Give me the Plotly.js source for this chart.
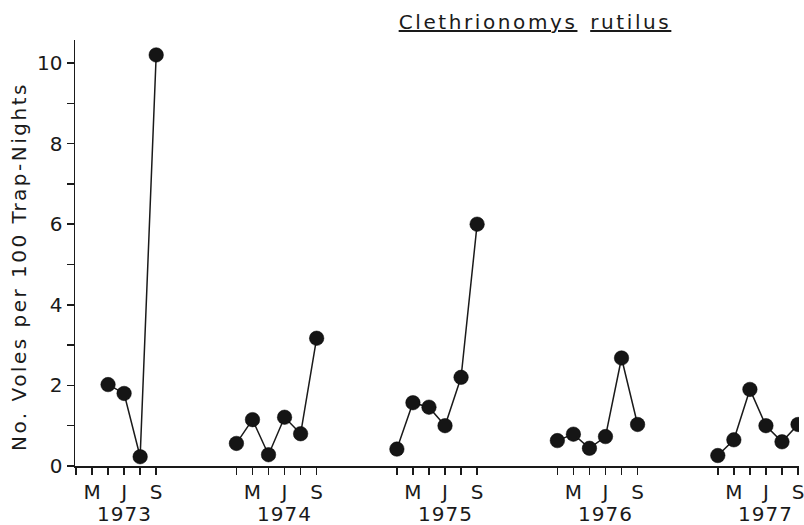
<!DOCTYPE html>
<html>
<head>
<meta charset="utf-8">
<script src="https://cdn.plot.ly/plotly-3.0.1.min.js"></script>
<style>html,body{margin:0;padding:0;background:#fff;}#chart{width:804px;height:525px;}</style>
</head>
<body>
<div id="chart"></div>
<script>
// Data
const years = ['1973', '1974', '1975', '1976', '1977'];
const monthLabels = ['', 'M', '', 'J', '', 'S']; // six sampled months per season
const v1973 = [null, null, 2.02, 1.8, 0.23, 10.2];
const v1974 = [0.56, 1.15, 0.28, 1.21, 0.8, 3.17];
const v1975 = [0.42, 1.57, 1.46, 1.0, 2.2, 6.0];
const v1976 = [0.63, 0.79, 0.44, 0.73, 2.68, 1.03];
const v1977 = [0.26, 0.65, 1.9, 1.0, 0.6, 1.03];
const series = [v1973, v1974, v1975, v1976, v1977];

const yearStep = 10; // axis units between seasons (6 months + gap)
const ink = '#1a1a1a';
const fontFam = 'DejaVu Sans, sans-serif';

const traces = series.map((vals, yi) => ({
  type: 'scatter',
  mode: 'lines+markers',
  x: monthLabels.map((_, mi) => yi * yearStep + mi),
  y: vals,
  connectgaps: false,
  line: {color: ink, width: 1.5},
  marker: {color: '#151515', size: 14.5, line: {color: '#000', width: 0.5}},
  showlegend: false,
  hoverinfo: 'x+y'
}));

const tickvals = [], ticktext = [];
years.forEach((y, yi) => monthLabels.forEach((m, mi) => {
  tickvals.push(yi * yearStep + mi);
  ticktext.push(m);
}));

const yTickVals = [0,1,2,3,4,5,6,7,8,9,10];
const yTickText = yTickVals.map(v => v % 2 === 0 ? String(v) : '');

const spaced = (t, px) => '<span style="letter-spacing:' + px + 'px">' + t + '</span>';

const annotations = years.map((y, yi) => ({
  text: spaced(y, 1), xref: 'x', yref: 'paper', x: yi * yearStep + 3, y: 0,
  xanchor: 'center', yanchor: 'top', yshift: -34, showarrow: false,
  font: {family: fontFam, size: 20, color: ink}
}));
annotations.push({
  text: spaced('No. Voles per 100 Trap-Nights', 2.5), xref: 'paper', yref: 'paper',
  x: 0, y: 0.467, xshift: -56, xanchor: 'center', yanchor: 'middle',
  textangle: -90, showarrow: false,
  font: {family: fontFam, size: 20, color: ink}
});

const layout = {
  width: 804, height: 525,
  margin: {l: 75, r: 5, t: 40, b: 59},
  paper_bgcolor: '#fff', plot_bgcolor: '#fff',
  title: {
    text: spaced('<u>Clethrionomys</u>', 2.6) + '  ' + spaced('<u>rutilus</u>', 2.6),
    x: 535 / 804, xanchor: 'center', xref: 'container',
    y: 1 - 22 / 525, yanchor: 'middle', yref: 'container',
    font: {family: fontFam, size: 20, color: ink}
  },
  xaxis: {
    range: [-0.06, 45.06], showgrid: false, zeroline: false,
    showline: true, linecolor: ink, linewidth: 1.5,
    ticks: 'outside', ticklen: 7, tickwidth: 1.5, tickcolor: ink,
    tickmode: 'array', tickvals: tickvals, ticktext: ticktext,
    ticklabeloverflow: 'allow',
    tickfont: {family: fontFam, size: 20, color: ink}
  },
  yaxis: {
    range: [0, 10.57], showgrid: false, zeroline: false,
    showline: true, linecolor: ink, linewidth: 1.5,
    ticks: 'outside', ticklen: 7, tickwidth: 1.5, tickcolor: ink,
    tickmode: 'array', tickvals: yTickVals, ticktext: yTickText,
    tickfont: {family: fontFam, size: 20, color: ink}
  },
  annotations: annotations,
  font: {family: fontFam, color: ink}
};

Plotly.newPlot('chart', traces, layout, {displayModeBar: false, staticPlot: true});
</script>
</body>
</html>
